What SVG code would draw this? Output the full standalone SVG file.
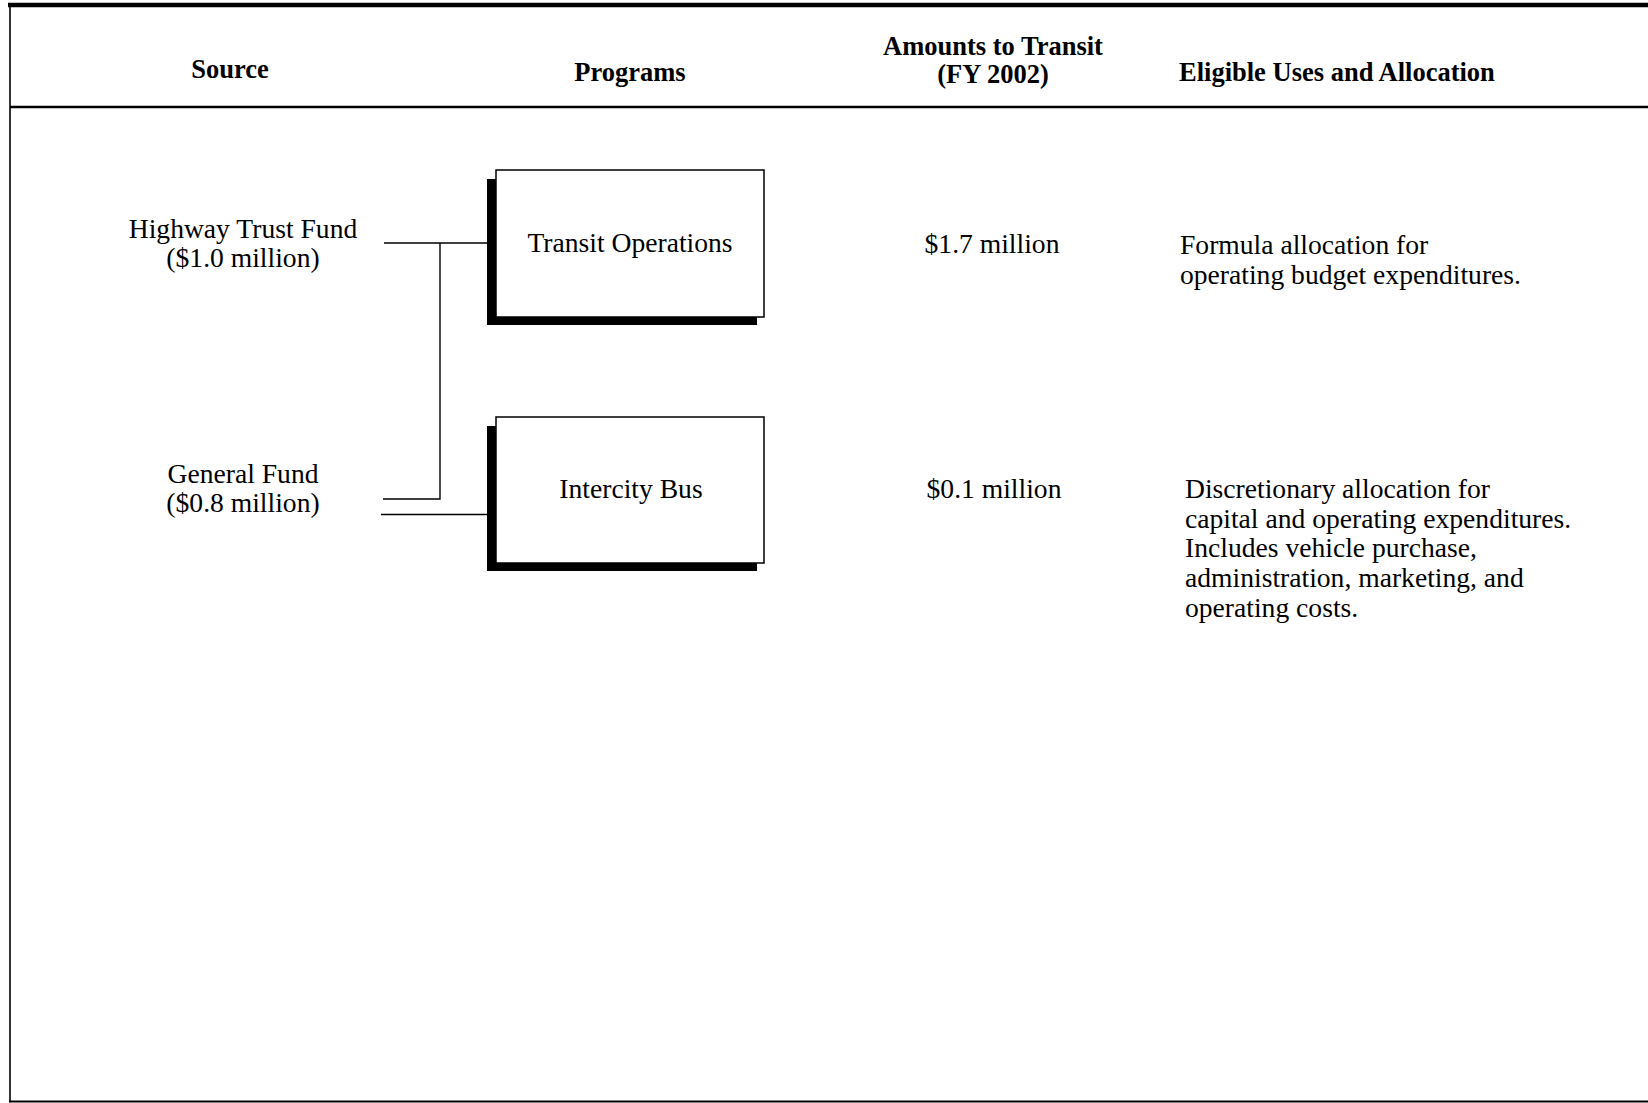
<svg xmlns="http://www.w3.org/2000/svg" width="1648" height="1103" viewBox="0 0 1648 1103">
  <style>
    .rule { stroke: #000; fill: none; }
    .wire { stroke: #000; stroke-width: 1.4; fill: none; }
    .box { fill: #fff; stroke: #000; stroke-width: 1.5; }
    .shadow { fill: #000; }
    .hd { font-family: "Liberation Serif", "Times New Roman", serif; font-weight: bold; font-size: 26.5px; fill: #000; }
    .tx { font-family: "Liberation Serif", "Times New Roman", serif; font-size: 27.6px; fill: #000; }
    .c { text-anchor: middle; }
  </style>
  <rect width="1648" height="1103" fill="#fff"/>

  <!-- frame and header rules -->
  <g id="frame">
    <line class="rule" x1="8" y1="5" x2="1648" y2="5" stroke-width="4.4"/>
    <line class="rule" x1="10" y1="3" x2="10" y2="1102" stroke-width="1.6"/>
    <line class="rule" x1="10" y1="107" x2="1648" y2="107" stroke-width="2.6"/>
    <line class="rule" x1="9" y1="1101.5" x2="1648" y2="1101.5" stroke-width="2"/>
  </g>

  <!-- column headings -->
  <g id="headings">
    <text class="hd c" x="230" y="78">Source</text>
    <text class="hd c" x="630" y="81">Programs</text>
    <text class="hd c" x="993" y="55">Amounts to Transit</text>
    <text class="hd c" x="993" y="83">(FY 2002)</text>
    <text class="hd" x="1179" y="81">Eligible Uses and Allocation</text>
  </g>

  <!-- funding sources -->
  <g id="src-highway">
    <text class="tx c" x="243" y="238">Highway Trust Fund</text>
    <text class="tx c" x="243" y="267">($1.0 million)</text>
  </g>
  <g id="src-general">
    <text class="tx c" x="243" y="483">General Fund</text>
    <text class="tx c" x="243" y="512">($0.8 million)</text>
  </g>

  <!-- connectors -->
  <g id="connectors">
    <polyline class="wire" points="384,243 488,243"/>
    <polyline class="wire" points="440,243 440,499 383,499"/>
    <polyline class="wire" points="381,514.5 488,514.5"/>
  </g>

  <!-- programs -->
  <g id="prog-transit-ops">
    <rect class="shadow" x="487" y="179" width="270" height="146"/>
    <rect class="box" x="496" y="170" width="268" height="147"/>
    <text class="tx c" x="630" y="252">Transit Operations</text>
  </g>
  <g id="prog-intercity-bus">
    <rect class="shadow" x="487" y="426" width="270" height="145"/>
    <rect class="box" x="496" y="417" width="268" height="146"/>
    <text class="tx c" x="631" y="498">Intercity Bus</text>
  </g>

  <!-- amounts -->
  <g id="amt-transit-ops">
    <text class="tx c" x="992" y="253">$1.7 million</text>
  </g>
  <g id="amt-intercity-bus">
    <text class="tx c" x="994" y="498">$0.1 million</text>
  </g>

  <!-- eligible uses -->
  <g id="use-transit-ops">
    <text class="tx" x="1180" y="254">Formula allocation for</text>
    <text class="tx" x="1180" y="284">operating budget expenditures.</text>
  </g>
  <g id="use-intercity-bus">
    <text class="tx" x="1185" y="498">Discretionary allocation for</text>
    <text class="tx" x="1185" y="527.7">capital and operating expenditures.</text>
    <text class="tx" x="1185" y="557.4">Includes vehicle purchase,</text>
    <text class="tx" x="1185" y="587.1">administration, marketing, and</text>
    <text class="tx" x="1185" y="616.8">operating costs.</text>
  </g>
</svg>
